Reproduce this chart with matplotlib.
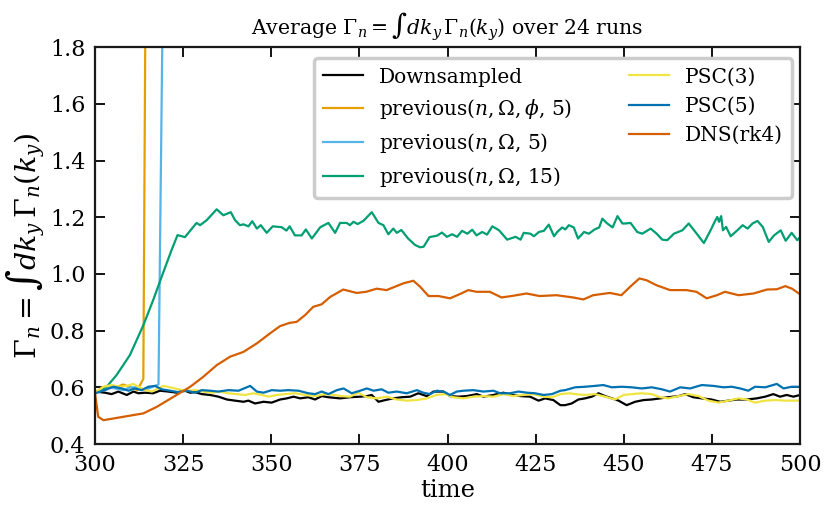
import matplotlib
matplotlib.use("Agg")
import matplotlib.pyplot as plt

# colours (Okabe-Ito)
C_DOWN = "black"
C_PHI5 = "#E69F00"
C_PREV5 = "#56B4E9"
C_PREV15 = "#009E73"
C_PSC3 = "#F0E442"
C_PSC5 = "#0072B2"
C_DNS = "#D55E00"

# Downsampled
t_down = [300, 302.8, 304.7, 306.6, 309, 310.9, 312.3, 314.2, 316.5, 318.4, 320.8, 323.2,
          325.1, 327, 328.4, 330.3, 332.6, 335, 337.4, 339.7, 342.1, 343.5, 345.4, 347.8,
          350.1, 352.5, 354.4, 356.3, 358.2, 360.5, 362.4, 364.3, 366.2, 369.5, 372.3,
          375.2, 377.1, 378.5, 380.4, 382.3, 384.6, 387, 389.4, 391.7, 394.1, 396, 398.8,
          400.7, 403.1, 405.4, 408.3, 410.2, 413, 415.8, 418.2, 420.6, 423.4, 425.8, 427.7,
          430, 432, 433.3, 435.2, 437.1, 439, 440.9, 442.8, 444.7, 446.6, 448.5, 450.8,
          453.2, 455.6, 457.9, 460.3, 462.6, 465.5, 467.4, 469.7, 472.1, 474.9, 477.3,
          479.7, 482, 484.9, 487.7, 490.1, 492.4, 494.3, 496.2, 498.1, 500]
g_down = [0.585, 0.581, 0.576, 0.585, 0.573, 0.585, 0.579, 0.581, 0.579, 0.588, 0.585, 0.581,
          0.590, 0.581, 0.583, 0.576, 0.573, 0.567, 0.557, 0.553, 0.549, 0.553, 0.543, 0.549,
          0.546, 0.557, 0.561, 0.567, 0.561, 0.565, 0.557, 0.569, 0.565, 0.561, 0.565,
          0.567, 0.569, 0.573, 0.549, 0.555, 0.561, 0.565, 0.567, 0.579, 0.569, 0.585, 0.585,
          0.569, 0.567, 0.569, 0.576, 0.567, 0.573, 0.581, 0.573, 0.569, 0.567, 0.553, 0.561,
          0.555, 0.537, 0.537, 0.543, 0.557, 0.561, 0.567, 0.579, 0.569, 0.561, 0.553, 0.537,
          0.549, 0.555, 0.557, 0.561, 0.565, 0.569, 0.576, 0.565, 0.561, 0.557, 0.549,
          0.553, 0.557, 0.557, 0.561, 0.567, 0.576, 0.567, 0.573, 0.567, 0.573]

# previous(n, Omega, phi, 5) -- blows up near t=314
t_phi5 = [300, 302, 304, 306, 308, 310, 312, 313.7, 314.3]
g_phi5 = [0.58, 0.60, 0.605, 0.60, 0.61, 0.60, 0.59, 0.63, 1.95]

# previous(n, Omega, 5) -- blows up near t=319
t_prev5 = [300, 302, 304, 306, 308, 310, 312, 314, 316, 318.0, 319.2]
g_prev5 = [0.58, 0.59, 0.60, 0.595, 0.59, 0.60, 0.60, 0.59, 0.60, 0.61, 1.95]

# previous(n, Omega, 15)
t_prev15 = [300, 303.3, 306.1, 309.9, 313.7, 316.5, 318.9, 321.7, 323.4, 325.5, 328.8, 329.8,
            331.7, 334.5, 336.4, 338.5, 339.7, 341.1, 342.1, 343.5, 344.6, 345.9, 347, 348.7,
            350.4, 352.9, 354.3, 355.2, 356.7, 358.6, 359.8, 361.5, 363.9, 366.2, 368.1,
            369.5, 371.4, 372.3, 373.3, 374.5, 376.2, 378.5, 380.4, 381.8, 383.2, 384.6,
            385.6, 386.9, 388.8, 390.8, 392.2, 393.2, 394.9, 397, 398.4, 399.8, 401.3, 402.7,
            404.1, 405.6, 407, 408.2, 409.8, 411.2, 412.7, 414.6, 416.9, 419.3, 420.7, 421.6,
            423.5, 424.5, 425.9, 427.3, 428.7, 430.2, 431.1, 432.5, 433.4, 434.4, 435.8, 437,
            438.7, 440.1, 441.7, 443, 443.9, 445.3, 446.8, 448.2, 449.6, 450.5, 451.9, 453.8,
            455.2, 457.6, 459.3, 460.9, 462.3, 464.2, 466.6, 468.4, 470.3, 472.7, 474.6, 476,
            476.5, 477, 477.6, 478.1, 479, 480.3, 482.2, 483.7, 485.1, 486.5, 487.9, 489.4,
            491.1, 492.6, 494.5, 495.9, 497.6, 499.2, 500]
g_prev15 = [0.578, 0.602, 0.643, 0.714, 0.819, 0.908, 0.990, 1.084, 1.137, 1.130, 1.180, 1.172,
            1.190, 1.228, 1.207, 1.218, 1.190, 1.172, 1.175, 1.168, 1.186, 1.160, 1.172, 1.145,
            1.168, 1.165, 1.153, 1.168, 1.136, 1.136, 1.157, 1.125, 1.165, 1.180, 1.145,
            1.180, 1.180, 1.172, 1.184, 1.176, 1.188, 1.218, 1.180, 1.172, 1.140, 1.160,
            1.145, 1.155, 1.125, 1.102, 1.094, 1.096, 1.130, 1.135, 1.146, 1.131, 1.140, 1.131,
            1.152, 1.142, 1.156, 1.136, 1.148, 1.139, 1.168, 1.154, 1.121, 1.131, 1.121, 1.145,
            1.142, 1.133, 1.148, 1.152, 1.174, 1.133, 1.148, 1.164, 1.157, 1.172, 1.164, 1.125,
            1.148, 1.142, 1.157, 1.164, 1.195, 1.178, 1.164, 1.204, 1.178, 1.178, 1.180, 1.148,
            1.142, 1.160, 1.142, 1.121, 1.119, 1.142, 1.154, 1.178, 1.148, 1.109, 1.154, 1.190,
            1.201, 1.184, 1.204, 1.154, 1.166, 1.133, 1.154, 1.172, 1.160, 1.178, 1.187, 1.166,
            1.113, 1.136, 1.154, 1.117, 1.145, 1.119, 1.130]

# PSC(3)
t_psc3 = [300, 302.4, 304.7, 307.1, 309, 310.9, 312.3, 314.2, 316.1, 318, 319.4, 321.3, 323.6,
          326, 328.4, 330.7, 333.1, 335.5, 337.8, 340.2, 342.6, 344.9, 347.3, 349.2, 351.5,
          353.9, 356.7, 359.6, 362.4, 365.2, 368.1, 369.5, 372.3, 374.7, 377.1, 379.9, 382.7,
          385.6, 388.4, 391.3, 394.1, 396.9, 399.3, 401.7, 404.5, 407.3, 410.2, 413, 415.8,
          418.7, 421.5, 424.3, 427.2, 429.6, 432, 434.7, 436.2, 439, 441.8, 444.7, 447.5,
          449.9, 452.2, 455.1, 457.9, 460.3, 462.6, 465.5, 468.3, 471.2, 474, 476.8, 479.7,
          482.5, 484.9, 487.2, 490.1, 492.9, 495.7, 500]
g_psc3 = [0.581, 0.602, 0.608, 0.602, 0.605, 0.612, 0.602, 0.590, 0.585, 0.596, 0.605, 0.600,
          0.593, 0.588, 0.590, 0.585, 0.581, 0.585, 0.579, 0.576, 0.573, 0.579, 0.573, 0.567,
          0.573, 0.576, 0.579, 0.573, 0.569, 0.576, 0.573, 0.569, 0.567, 0.581, 0.565, 0.561,
          0.567, 0.557, 0.553, 0.555, 0.561, 0.573, 0.576, 0.565, 0.561, 0.567, 0.569, 0.567,
          0.576, 0.569, 0.573, 0.576, 0.567, 0.565, 0.576, 0.579, 0.576, 0.573, 0.576, 0.567,
          0.557, 0.573, 0.576, 0.579, 0.576, 0.565, 0.561, 0.569, 0.576, 0.569, 0.553, 0.546,
          0.553, 0.561, 0.557, 0.546, 0.553, 0.555, 0.553, 0.553]

# PSC(5)
t_psc5 = [300, 302.8, 305.2, 307.6, 309.5, 311.3, 313.2, 315.1, 317, 318.9, 321.3, 323.6, 326,
          328.4, 330.3, 332.6, 335, 337.8, 340.7, 344, 345.9, 347.8, 350.1, 352.5, 354.8,
          357.7, 360.5, 362.4, 364.3, 366.2, 368.6, 370.5, 372.8, 375.2, 377.1, 379, 381.3,
          383.2, 385.6, 388.4, 391.3, 393.1, 395, 396.9, 398.8, 400.7, 402.6, 404.5, 407.3,
          410.2, 413, 414.9, 417.7, 420.1, 422.5, 424.8, 427.2, 429.6, 432, 433.3, 436.2,
          439, 441.8, 444.2, 446.6, 449.4, 452.2, 455.1, 457.9, 460.8, 463.1, 466, 468.8,
          472.1, 475.4, 478.3, 480.6, 483, 485.3, 487.2, 490.1, 493.4, 495.3, 497.6, 500]
g_psc5 = [0.579, 0.590, 0.602, 0.596, 0.588, 0.596, 0.590, 0.602, 0.605, 0.593, 0.588, 0.583,
          0.588, 0.581, 0.590, 0.588, 0.585, 0.590, 0.588, 0.605, 0.585, 0.581, 0.590, 0.588,
          0.590, 0.588, 0.579, 0.576, 0.585, 0.576, 0.590, 0.596, 0.579, 0.588, 0.596, 0.588,
          0.593, 0.581, 0.585, 0.579, 0.590, 0.581, 0.576, 0.588, 0.585, 0.573, 0.585, 0.588,
          0.590, 0.585, 0.588, 0.579, 0.579, 0.585, 0.581, 0.579, 0.573, 0.576, 0.588, 0.590,
          0.600, 0.602, 0.605, 0.608, 0.600, 0.602, 0.600, 0.596, 0.600, 0.593, 0.585, 0.600,
          0.596, 0.608, 0.605, 0.600, 0.602, 0.596, 0.588, 0.602, 0.600, 0.612, 0.596, 0.602,
          0.602]

# DNS(rk4)
t_dns = [300, 300.9, 302.4, 308, 313.7, 317.5, 322.2, 327, 330.7, 334.5, 338.3, 342.1, 345.9,
         349.6, 352.5, 355.1, 357.2, 359.6, 361.9, 364.3, 366.7, 370.4, 374.2, 376.9, 379.9,
         382.7, 385.1, 387.5, 390.3, 392.2, 394.6, 397.4, 400.7, 403.5, 405.9, 408.2, 412,
         415.3, 418.1, 422.4, 426.1, 430.9, 435.6, 438.5, 441.3, 446, 449.3, 451.8, 454.4,
         456.4, 459.3, 463.1, 467.8, 470.6, 473.5, 476.4, 478.7, 482.5, 486.8, 490.6, 493.4,
         495.8, 497.7, 500]
g_dns = [0.578, 0.496, 0.484, 0.496, 0.508, 0.531, 0.566, 0.602, 0.637, 0.678, 0.708, 0.725,
         0.755, 0.790, 0.816, 0.827, 0.831, 0.855, 0.884, 0.893, 0.919, 0.945, 0.933, 0.937,
         0.948, 0.943, 0.955, 0.967, 0.976, 0.955, 0.922, 0.922, 0.914, 0.929, 0.943, 0.937,
         0.937, 0.917, 0.922, 0.931, 0.922, 0.925, 0.917, 0.910, 0.925, 0.933, 0.925, 0.955,
         0.984, 0.978, 0.960, 0.943, 0.943, 0.937, 0.914, 0.925, 0.937, 0.925, 0.931, 0.945,
         0.946, 0.957, 0.948, 0.928]

plt.rcParams["font.family"] = "DejaVu Serif"
plt.rcParams["mathtext.fontset"] = "dejavuserif"

fig = plt.figure(figsize=(8.3, 5.13), dpi=100)
ax = fig.add_axes([0.1145, 0.1345, 0.8495, 0.7735])

lw = 1.6
ax.plot(t_down, g_down, color=C_DOWN, lw=lw, label="Downsampled")
ax.plot(t_phi5, g_phi5, color=C_PHI5, lw=lw, label=r"previous($n, \Omega, \phi$, 5)")
ax.plot(t_prev5, g_prev5, color=C_PREV5, lw=lw, label=r"previous($n, \Omega$, 5)")
ax.plot(t_prev15, g_prev15, color=C_PREV15, lw=lw, label=r"previous($n, \Omega$, 15)")
ax.plot(t_psc3, g_psc3, color=C_PSC3, lw=lw, label="PSC(3)")
ax.plot(t_psc5, g_psc5, color=C_PSC5, lw=lw, label="PSC(5)")
ax.plot(t_dns, g_dns, color=C_DNS, lw=lw, label="DNS(rk4)")

ax.set_xlim(300, 500)
ax.set_ylim(0.4, 1.8)
ax.set_xticks([300, 325, 350, 375, 400, 425, 450, 475, 500])
ax.set_yticks([0.4, 0.6, 0.8, 1.0, 1.2, 1.4, 1.6, 1.8])
ax.tick_params(direction="in", top=True, right=True, length=7, width=1.3, labelsize=16,
               pad=7)
for s in ax.spines.values():
    s.set_linewidth(1.6)
    s.set_color("#1a1a1a")

ax.set_xlabel("time", fontsize=17.5, labelpad=2)
ax.set_ylabel(r"$\Gamma_n = \int dk_y\, \Gamma_n(k_y)$", fontsize=20.5, labelpad=2)
ax.set_title(r"Average $\Gamma_n = \int dk_y\, \Gamma_n(k_y)$ over 24 runs", fontsize=14.7,
             pad=9)

leg = ax.legend(loc="upper right", ncol=2, fontsize=14.5, frameon=True, fancybox=True,
                edgecolor="#cccccc", framealpha=1, columnspacing=2.8, handlelength=2.0,
                borderpad=0.45, labelspacing=0.5, bbox_to_anchor=(1.003, 0.997))
leg.get_frame().set_linewidth(2.5)

fig.savefig("out.png", dpi=100)
